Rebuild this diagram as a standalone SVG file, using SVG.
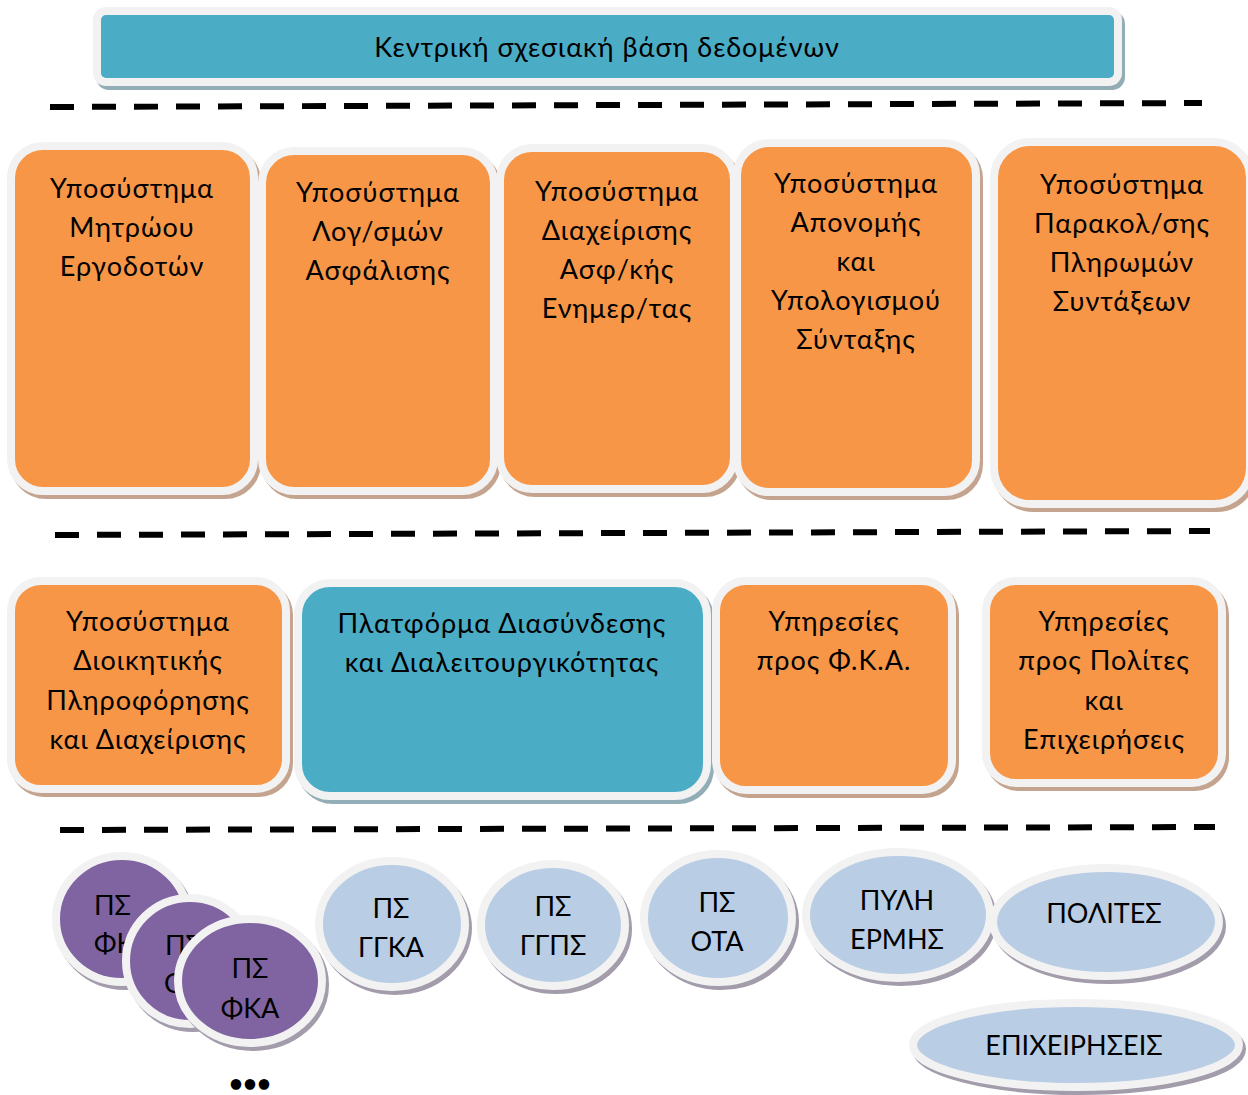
<svg xmlns="http://www.w3.org/2000/svg" width="1248" height="1095" viewBox="0 0 1248 1095">
<style>
.or{fill:#f79646;stroke:#f2f2f2;stroke-width:8}
.bl{fill:#4bacc6;stroke:#f2f2f2;stroke-width:8}
.pu{fill:#8064a2;stroke:#f2f2f2;stroke-width:8}
.lb{fill:#b9cde5;stroke:#f2f2f2;stroke-width:8}
.sO{fill:#c4a48e;stroke:#c4a48e;stroke-width:8}
.sB{fill:#93adb7;stroke:#93adb7;stroke-width:8}
.sP{fill:#a29cab;stroke:#a29cab;stroke-width:8}
.t{font-family:Lato,"Noto Sans","Liberation Sans",sans-serif;font-size:27px;letter-spacing:1px;fill:#000;text-anchor:middle}
.c{letter-spacing:0}
.dash{stroke:#000;stroke-width:6;stroke-dasharray:24 18;fill:none}
</style>
<rect width="1248" height="1095" fill="#fff"/>
<g id="separators">
<line class="dash" x1="50" y1="107" x2="1202" y2="103"/>
<line class="dash" x1="55" y1="535" x2="1210" y2="531"/>
<line class="dash" x1="60" y1="830" x2="1215" y2="827"/>
</g>
<g id="db">
<rect class="sB" x="100" y="15" width="1021" height="71" rx="9"/>
<rect class="bl" x="97" y="11" width="1021" height="71" rx="9"/>
<text class="t" x="607" y="57">Κεντρική σχεσιακή βάση δεδομένων</text>
</g>
<g id="box1">
<rect class="sO" x="14" y="150" width="243" height="345" rx="32"/>
<rect class="or" x="11" y="146" width="243" height="345" rx="32"/>
<text class="t" x="132" y="198">Υποσύστημα</text>
<text class="t" x="132" y="237">Μητρώου</text>
<text class="t" x="132" y="276">Εργοδοτών</text>
</g>
<g id="box2">
<rect class="sO" x="265" y="155" width="232" height="340" rx="32"/>
<rect class="or" x="262" y="151" width="232" height="340" rx="32"/>
<text class="t" x="378" y="202">Υποσύστημα</text>
<text class="t" x="378" y="241">Λογ/σμών</text>
<text class="t" x="378" y="280">Ασφάλισης</text>
</g>
<g id="box3">
<rect class="sO" x="503" y="152" width="234" height="341" rx="32"/>
<rect class="or" x="500" y="148" width="234" height="341" rx="32"/>
<text class="t" x="617" y="201">Υποσύστημα</text>
<text class="t" x="617" y="240">Διαχείρισης</text>
<text class="t" x="617" y="279">Ασφ/κής</text>
<text class="t" x="617" y="318">Ενημερ/τας</text>
</g>
<g id="box4">
<rect class="sO" x="740" y="147" width="239" height="349" rx="32"/>
<rect class="or" x="737" y="143" width="239" height="349" rx="32"/>
<text class="t" x="856" y="193">Υποσύστημα</text>
<text class="t" x="856" y="232">Απονομής</text>
<text class="t" x="856" y="271">και</text>
<text class="t" x="856" y="310">Υπολογισμού</text>
<text class="t" x="856" y="349">Σύνταξης</text>
</g>
<g id="box5">
<rect class="sO" x="997" y="146" width="256" height="362" rx="36"/>
<rect class="or" x="994" y="142" width="256" height="362" rx="36"/>
<text class="t" x="1122" y="194">Υποσύστημα</text>
<text class="t" x="1122" y="233">Παρακολ/σης</text>
<text class="t" x="1122" y="272">Πληρωμών</text>
<text class="t" x="1122" y="311">Συντάξεων</text>
</g>
<g id="boxA">
<rect class="sO" x="14" y="585" width="275" height="208" rx="30"/>
<rect class="or" x="11" y="581" width="275" height="208" rx="30"/>
<text class="t" x="148" y="631">Υποσύστημα</text>
<text class="t" x="148" y="670">Διοικητικής</text>
<text class="t" x="148" y="710">Πληροφόρησης</text>
<text class="t" x="148" y="749">και Διαχείρισης</text>
</g>
<g id="boxB">
<rect class="sB" x="301" y="587" width="409" height="213" rx="32"/>
<rect class="bl" x="298" y="583" width="409" height="213" rx="32"/>
<text class="t" x="502" y="633">Πλατφόρμα Διασύνδεσης</text>
<text class="t" x="502" y="672">και Διαλειτουργικότητας</text>
</g>
<g id="boxC">
<rect class="sO" x="719" y="585" width="236" height="209" rx="30"/>
<rect class="or" x="716" y="581" width="236" height="209" rx="30"/>
<text class="t" x="834" y="631">Υπηρεσίες</text>
<text class="t" x="834" y="670">προς Φ.Κ.Α.</text>
</g>
<g id="boxD">
<rect class="sO" x="989" y="585" width="236" height="202" rx="30"/>
<rect class="or" x="986" y="581" width="236" height="202" rx="30"/>
<text class="t" x="1104" y="631">Υπηρεσίες</text>
<text class="t" x="1104" y="670">προς Πολίτες</text>
<text class="t" x="1104" y="710">και</text>
<text class="t" x="1104" y="749">Επιχειρήσεις</text>
</g>
<g id="ps1">
<ellipse class="sP" cx="125" cy="923" rx="66" ry="63"/>
<ellipse class="pu" cx="122" cy="919" rx="66" ry="63"/>
<text class="t c" x="94" y="915" style="text-anchor:start">ΠΣ</text>
<text class="t c" x="94" y="953" style="text-anchor:start">ΦΚ</text>
</g>
<g id="ps2">
<ellipse class="sP" cx="193" cy="965" rx="64" ry="63"/>
<ellipse class="pu" cx="190" cy="961" rx="64" ry="63"/>
<text class="t c" x="165" y="955" style="text-anchor:start">ΠΣ</text>
<text class="t c" x="164" y="993" style="text-anchor:start">Ο</text>
</g>
<g id="ps3">
<ellipse class="sP" cx="253" cy="985" rx="72" ry="62"/>
<ellipse class="pu" cx="250" cy="981" rx="72" ry="62"/>
<text class="t c" x="250" y="978">ΠΣ</text>
<text class="t c" x="250" y="1018">ΦΚΑ</text>
</g>
<g id="dots">
<text class="t c" x="250" y="1092" style="font-weight:bold;font-size:24px">•••</text>
</g>
<g id="ggka">
<ellipse class="sP" cx="395" cy="928" rx="73" ry="63"/>
<ellipse class="lb" cx="392" cy="924" rx="73" ry="63"/>
<text class="t c" x="391" y="918">ΠΣ</text>
<text class="t c" x="391" y="957">ΓΓΚΑ</text>
</g>
<g id="ggps">
<ellipse class="sP" cx="556" cy="929" rx="72" ry="61"/>
<ellipse class="lb" cx="553" cy="925" rx="72" ry="61"/>
<text class="t c" x="553" y="916">ΠΣ</text>
<text class="t c" x="553" y="955">ΓΓΠΣ</text>
</g>
<g id="ota">
<ellipse class="sP" cx="721" cy="922" rx="74" ry="64"/>
<ellipse class="lb" cx="718" cy="918" rx="74" ry="64"/>
<text class="t c" x="717" y="912">ΠΣ</text>
<text class="t c" x="717" y="951">ΟΤΑ</text>
</g>
<g id="ermis">
<ellipse class="sP" cx="901" cy="919" rx="92" ry="63"/>
<ellipse class="lb" cx="898" cy="915" rx="92" ry="63"/>
<text class="t c" x="897" y="910">ΠΥΛΗ</text>
<text class="t c" x="897" y="949">ΕΡΜΗΣ</text>
</g>
<g id="polites">
<ellipse class="sP" cx="1109" cy="926" rx="113" ry="54"/>
<ellipse class="lb" cx="1106" cy="922" rx="113" ry="54"/>
<text class="t c" x="1104" y="923">ΠΟΛΙΤΕΣ</text>
</g>
<g id="epix">
<ellipse class="sP" cx="1079" cy="1049" rx="163" ry="42"/>
<ellipse class="lb" cx="1076" cy="1045" rx="163" ry="42"/>
<text class="t c" x="1074" y="1055">ΕΠΙΧΕΙΡΗΣΕΙΣ</text>
</g>
</svg>
